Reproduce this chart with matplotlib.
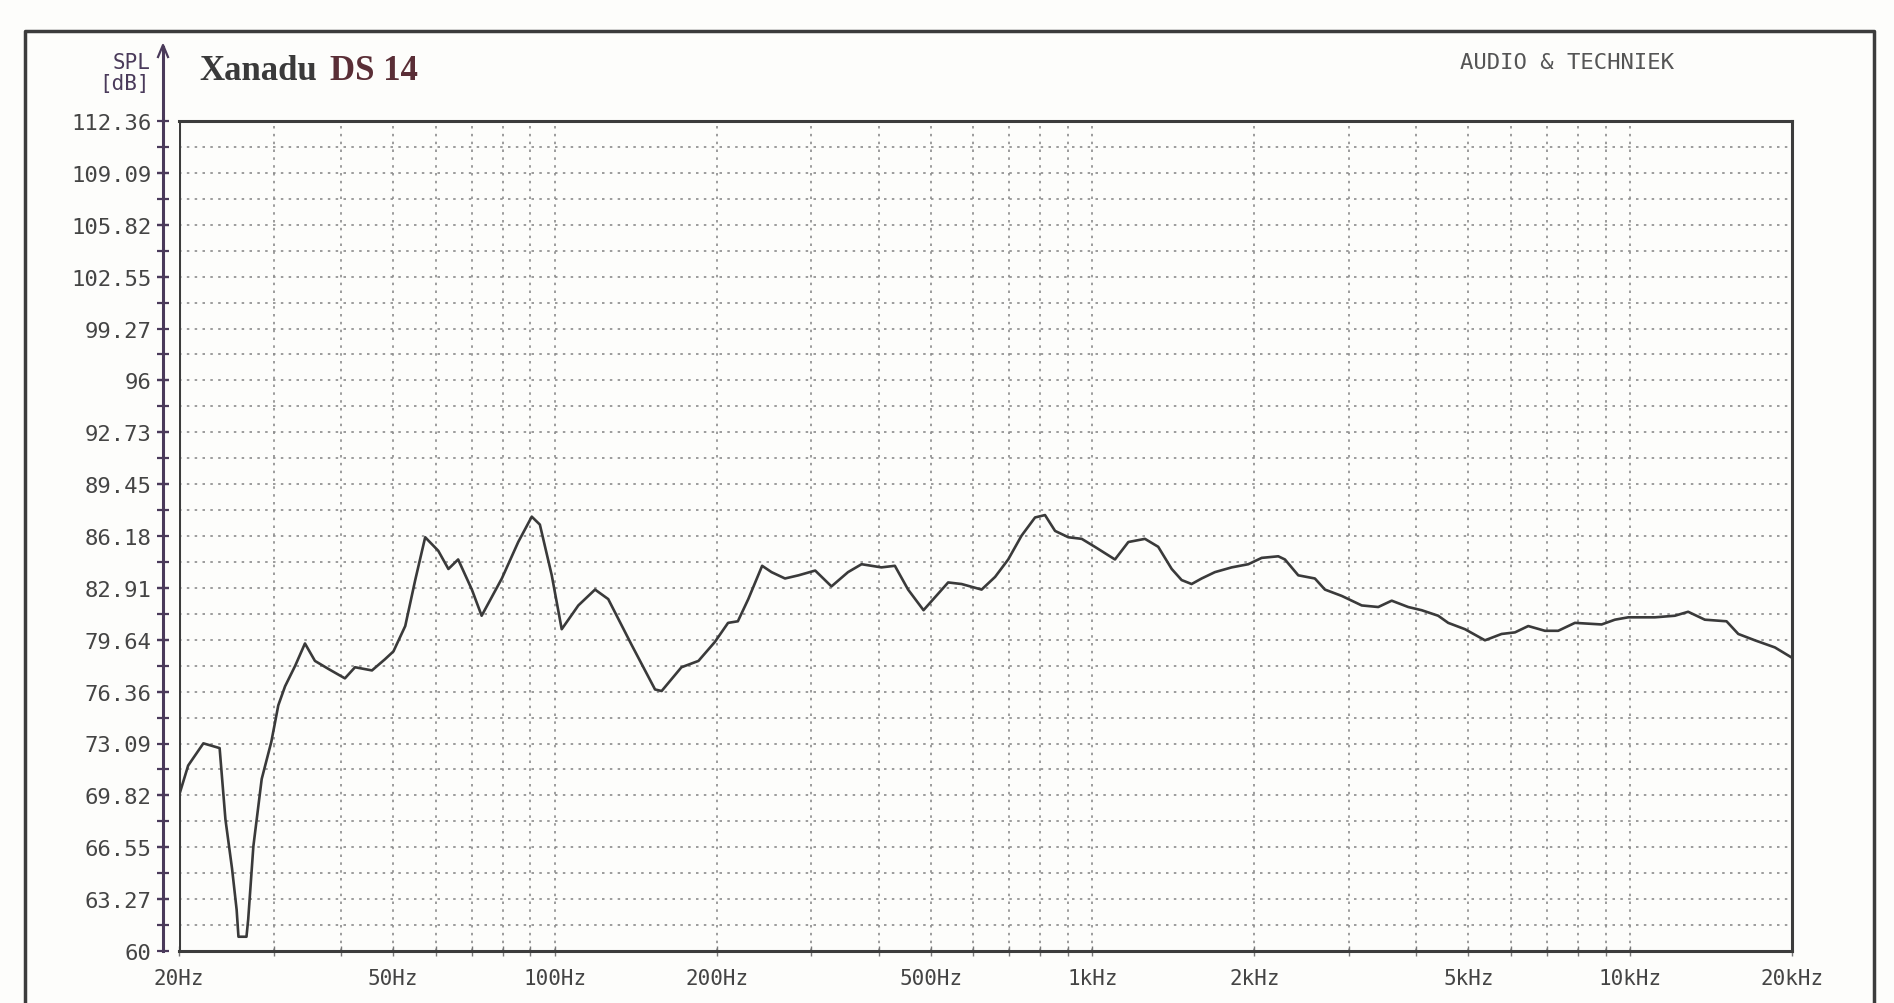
import numpy as np
import matplotlib
matplotlib.use("Agg")
import matplotlib.pyplot as plt
from matplotlib.lines import Line2D

freq = [20, 20.8, 22.2, 23.8, 24.4, 25.1, 25.6, 25.8, 26.7, 26.9, 27.5, 28.5,
        29.7, 30.6, 31.5, 32.9, 34.3, 35.8, 37.9, 40.7, 42.5, 45.7, 48.3, 50.1,
        52.7, 55.0, 57.4, 60.7, 63.4, 66.1, 70.1, 73.1, 79.7, 85.5, 90.6, 93.8,
        98.7, 103, 110.6, 118.8, 125.7, 139, 153.6, 158, 172, 185, 198.5, 210,
        219, 229, 243, 253, 268, 284, 305, 327, 351, 372, 405, 429, 454, 485,
        509, 539, 571, 622, 659, 697, 738, 782, 816, 852, 902, 955, 1010, 1101,
        1166, 1252, 1325, 1404, 1465, 1529, 1596, 1689, 1815, 1949, 2064, 2216,
        2280, 2414, 2592, 2706, 2908, 3168, 3400, 3602, 3866, 4094, 4395, 4588,
        4930, 5370, 5767, 6106, 6464, 6942, 7348, 7894, 8850, 9368, 9916, 11120,
        12110, 12820, 13770, 15110, 15890, 17060, 18590, 20000]
spl = [69.8, 71.7, 73.1, 72.8, 68.3, 65.2, 62.6, 60.9, 60.9, 62.0, 66.6, 70.85,
       73.2, 75.5, 76.7, 78.0, 79.4, 78.3, 77.8, 77.2, 77.9, 77.7, 78.4, 78.9,
       80.5, 83.4, 86.1, 85.25, 84.1, 84.7, 82.8, 81.15, 83.5, 85.8, 87.4, 86.9,
       83.7, 80.3, 81.8, 82.8, 82.2, 79.3, 76.5, 76.4, 77.9, 78.3, 79.5, 80.7,
       80.8, 82.2, 84.3, 83.9, 83.5, 83.7, 84.0, 83.0, 83.9, 84.4, 84.2, 84.3,
       82.8, 81.5, 82.3, 83.25, 83.15, 82.8, 83.6, 84.7, 86.2, 87.35, 87.5, 86.5,
       86.1, 86.0, 85.5, 84.7, 85.8, 86.0, 85.5, 84.1, 83.4, 83.15, 83.5, 83.9,
       84.2, 84.4, 84.8, 84.9, 84.7, 83.7, 83.5, 82.8, 82.4, 81.8, 81.7, 82.1,
       81.7, 81.5, 81.15, 80.7, 80.3, 79.6, 80.0, 80.1, 80.5, 80.2, 80.2, 80.7,
       80.6, 80.9, 81.05, 81.05, 81.15, 81.4, 80.9, 80.8, 80.0, 79.6, 79.15, 78.5]

y_labels = ["60", "63.27", "66.55", "69.82", "73.09", "76.36", "79.64", "82.91",
            "86.18", "89.45", "92.73", "96", "99.27", "102.55", "105.82",
            "109.09", "112.36"]
x_ticks = [20, 50, 100, 200, 500, 1000, 2000, 5000, 10000, 20000]
x_labels = ["20Hz", "50Hz", "100Hz", "200Hz", "500Hz", "1kHz", "2kHz",
            "5kHz", "10kHz", "20kHz"]

mono = "DejaVu Sans Mono"
ink = "#3a3a3a"
axis_col = "#4a3a5a"

fig = plt.figure(figsize=(18.94, 10.04), dpi=100)
fig.patch.set_facecolor("#fdfdfb")
ax = fig.add_axes([179 / 1894, 1 - 952 / 1004, (1792 - 179) / 1894, (952 - 122) / 1004])
ax.set_facecolor("#fdfdfb")

# spines eerst (set_position zet de ticks terug)
ax.spines["left"].set_position(("outward", 11.5))
ax.spines["left"].set_color(axis_col)
ax.spines["left"].set_linewidth(2.2)
for s in ["top", "right", "bottom"]:
    ax.spines[s].set_color("#3c3c3c")
    ax.spines[s].set_linewidth(2.2)

y_vals = [float(v) for v in y_labels]
ax.set_xscale("log")
ax.set_xlim(20, 20000)
ax.set_ylim(y_vals[0], y_vals[-1])

# rasterlijnen
grid_kw = dict(color="#8c8c8c", lw=1.2, dashes=(1.5, 3.2), zorder=1)
for dec in [10, 100, 1000]:
    for m in range(2, 11):
        f = m * dec
        if 20 < f < 20000:
            ax.axvline(f, **grid_kw)
y_half = np.linspace(y_vals[0], y_vals[-1], 33)
for yv in y_half[1:-1]:
    ax.axhline(yv, **grid_kw)

ax.plot(freq, spl, color=ink, lw=1.9, zorder=3)

# assen
ax.set_yticks(y_vals)
ax.set_yticklabels(y_labels, fontfamily=mono, fontsize=16, color="#444444")
ax.set_yticks(y_half, minor=True)
ax.set_xticks(x_ticks)
ax.set_xticklabels(x_labels, fontfamily=mono, fontsize=15, color="#444444")
ax.xaxis.set_minor_locator(matplotlib.ticker.LogLocator(subs=np.arange(2, 10)))
ax.xaxis.set_minor_formatter(matplotlib.ticker.NullFormatter())
ax.tick_params(axis="y", which="both", direction="inout", length=9, width=1.6,
               color=axis_col, pad=4)
ax.tick_params(axis="x", which="both", direction="inout", length=7, width=1.0,
               color="#777777", pad=9)

# linker kader van het meetvlak
ax.axvline(20, color="#3c3c3c", lw=2.2, zorder=4)

# pijl aan de y-as
W, H = 1894, 1004
fig.add_artist(Line2D([163 / W, 163 / W], [1 - 122 / H, 1 - 48 / H], color=axis_col, lw=2.2))
fig.add_artist(Line2D([158 / W, 163 / W, 168 / W], [1 - 58 / H, 1 - 46 / H, 1 - 58 / H],
                      color=axis_col, lw=1.6))

# buitenkader
fig.add_artist(Line2D([25 / W, 25 / W, 1874 / W, 1874 / W], [0, 1 - 32 / H, 1 - 32 / H, 0],
                      color="#3c3c3c", lw=2.5))

fig.text(150 / W, 1 - 63 / H, "SPL", fontfamily=mono, fontsize=15, color=axis_col,
         ha="right", va="center")
fig.text(150 / W, 1 - 84 / H, "[dB]", fontfamily=mono, fontsize=15, color=axis_col,
         ha="right", va="center")
fig.text(199 / W, 1 - 72 / H, "Xanadu", fontfamily="Liberation Serif", fontsize=25,
         fontweight="bold", color=ink, va="center")
fig.text(330 / W, 1 - 72 / H, "DS 14", fontfamily="Liberation Serif", fontsize=25,
         fontweight="bold", color="#5a2e36", va="center")
fig.text(1567 / W, 1 - 63 / H, "AUDIO & TECHNIEK", fontfamily=mono, fontsize=16,
         color="#555555", ha="center", va="center")

fig.savefig("out.png", dpi=100, facecolor=fig.get_facecolor())
